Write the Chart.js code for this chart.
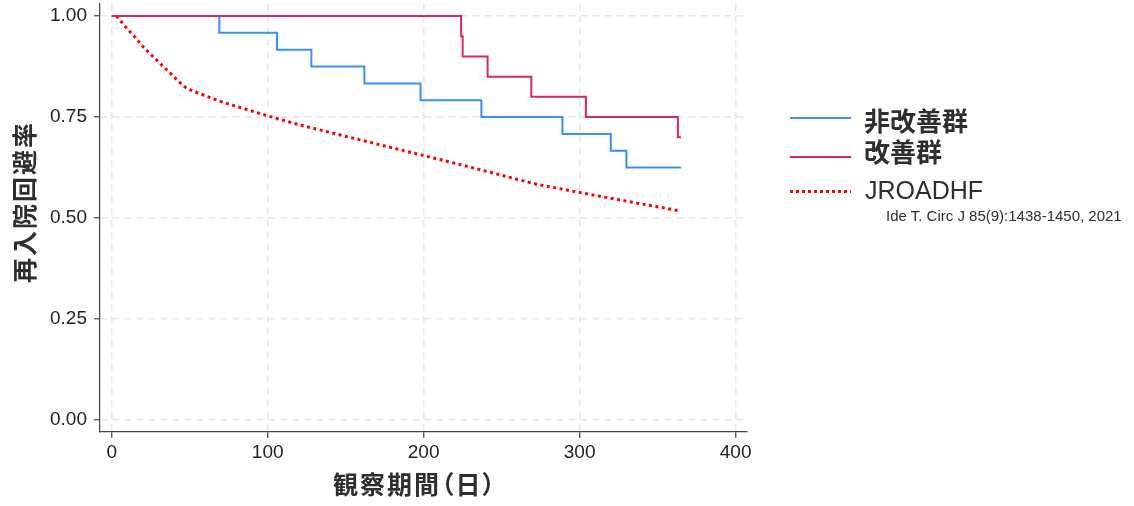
<!DOCTYPE html>
<html>
<head>
<meta charset="utf-8">
<script src="https://cdn.jsdelivr.net/npm/chart.js@4.4.1/dist/chart.umd.min.js"></script>
<style>
  body { margin: 0; background: #fff; }
  #wrap { position: relative; width: 1134px; height: 506px; }
  #wrap canvas { position: absolute; left: 0; top: 0; }
  .txt { position: absolute; white-space: nowrap; color: #2e2e2e; }
  .jp { font-family: "Noto Sans CJK JP", sans-serif; font-weight: bold; font-feature-settings: "palt"; }
  .sw { position: absolute; left: 790px; width: 61px; }
</style>
</head>
<body>
<div id="wrap">
  <canvas id="c" width="1134" height="506"></canvas>
  <div class="txt jp" id="ytitle" style="left:23px; top:202px; font-size:25px; letter-spacing:2px; transform: translate(-50%,-50%) rotate(-90deg);">再入院回避率</div>
  <div class="txt jp" id="xtitle" style="left:415px; top:483px; font-size:25px; letter-spacing:2px; transform: translate(-50%,-50%);">観察期間（日）</div>

  <div class="sw" style="top:117px; height:2px; background:#3a8ff0;"></div>
  <div class="txt jp" style="left:864px; top:107px; font-size:26px; line-height:26px;">非改善群</div>
  <div class="sw" style="top:156px; height:2px; background:#d7285f;"></div>
  <div class="txt jp" style="left:864px; top:138px; font-size:26px; line-height:26px;">改善群</div>
  <div class="sw" style="top:190px; height:3px; background: repeating-linear-gradient(90deg, #ff0000 0 3px, transparent 3px 6px);"></div>
  <div class="txt" style="left:865px; top:178px; font-family:'Liberation Sans', Arial, sans-serif; font-size:25px; line-height:25px;">JROADHF</div>
  <div class="txt" style="left:886px; top:208px; font-family:'Liberation Sans', Arial, sans-serif; font-size:15px; line-height:15px;">Ide T. Circ J 85(9):1438-1450, 2021</div>
</div>
<script>
// tick labels
const xTicks = [0, 100, 200, 300, 400];
const yTicks = [0, 0.25, 0.5, 0.75, 1];

// 非改善群 (n=24)
const nonImprovedDays = [0, 69, 106, 128, 162, 198, 237, 289, 320, 330, 365];
const nonImprovedSurv = [1, 0.9583, 0.9167, 0.875, 0.8333, 0.7917, 0.75, 0.7083, 0.6667, 0.625, 0.625];

// 改善群 (n=20)
const improvedDays = [0, 224, 225, 241, 269, 304, 363, 365];
const improvedSurv = [1, 0.95, 0.90, 0.85, 0.80, 0.75, 0.70, 0.70];

// JROADHF reference curve
const jroadDays = [3, 8, 16, 21, 27, 32, 38, 43, 48, 53, 60, 68, 75, 82, 100, 121, 142, 164, 185, 207, 228, 250, 271, 299, 320, 340, 364];
const jroadSurv = [1.0, 0.977, 0.943, 0.920, 0.898, 0.879, 0.857, 0.838, 0.821, 0.813, 0.803, 0.791, 0.782, 0.774, 0.753, 0.730, 0.710, 0.689, 0.669, 0.648, 0.628, 0.606, 0.585, 0.564, 0.549, 0.535, 0.518];

function pts(xs, ys) {
    return xs.map((x, i) => ({x: x, y: ys[i]}));
}

const tickFont = {family: "'Liberation Sans', Arial, sans-serif", size: 19};

new Chart(document.getElementById('c'), {
    type: 'line',
    data: {
        datasets: [
            {
                label: '改善群',
                data: pts(improvedDays, improvedSurv),
                borderColor: '#d7285f',
                borderWidth: 2,
                stepped: true,
                pointRadius: 0,
                order: 0
            },
            {
                label: '非改善群',
                data: pts(nonImprovedDays, nonImprovedSurv),
                borderColor: '#3a8ff0',
                borderWidth: 2,
                stepped: true,
                pointRadius: 0,
                order: 1
            },
            {
                label: 'JROADHF',
                data: pts(jroadDays, jroadSurv),
                borderColor: '#ff0000',
                borderWidth: 3,
                borderDash: [3, 3.5],
                pointRadius: 0,
                tension: 0,
                order: 2
            }
        ]
    },
    options: {
        responsive: false,
        animation: false,
        layout: {padding: {left: 0, top: 4, right: 387, bottom: 0}},
        plugins: {legend: {display: false}, tooltip: {enabled: false}},
        scales: {
            x: {
                type: 'linear',
                min: -7.5,
                max: 407.3,
                afterBuildTicks: axis => { axis.ticks = xTicks.map(v => ({value: v})); },
                afterFit: axis => { axis.height = 74; axis.paddingLeft = 0; axis.paddingRight = 0; },
                grid: {color: '#e6e6e6', lineWidth: 1.5, tickLength: 6, tickColor: '#444', tickWidth: 1.2},
                border: {display: true, color: '#444', width: 1.2, dash: [7, 5]},
                ticks: {font: tickFont, color: '#222', padding: 3, maxRotation: 0}
            },
            y: {
                type: 'linear',
                min: -0.0292,
                max: 1.0297,
                afterBuildTicks: axis => { axis.ticks = yTicks.map(v => ({value: v})); },
                afterFit: axis => { axis.width = 100; axis.paddingTop = 0; axis.paddingBottom = 0; },
                grid: {color: '#e6e6e6', lineWidth: 1.5, tickLength: 6, tickColor: '#444', tickWidth: 1.2},
                border: {display: true, color: '#444', width: 1.2, dash: [7, 5]},
                ticks: {font: tickFont, color: '#222', padding: 7, callback: v => v.toFixed(2)}
            }
        }
    }
});
</script>
</body>
</html>
